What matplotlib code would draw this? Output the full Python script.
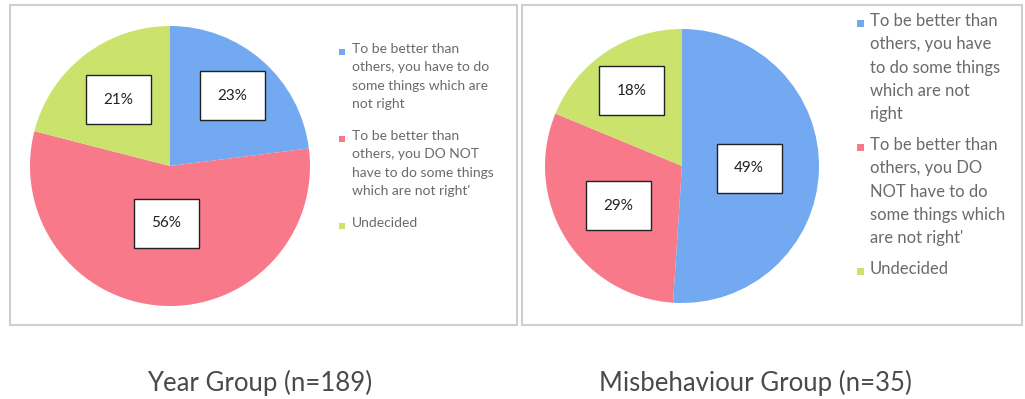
import matplotlib.pyplot as plt
from matplotlib.patches import Rectangle
import numpy as np

# data
year_values = [23, 56, 21]
misb_values = [49, 29, 18]
colors = ["#72a9f1", "#f8798a", "#cbe26c"]
year_legend = [
    "To be better than\nothers, you have to do\nsome things which are\nnot right",
    "To be better than\nothers, you DO NOT\nhave to do some things\nwhich are not right'",
    "Undecided",
]
misb_legend = [
    "To be better than\nothers, you have\nto do some things\nwhich are not\nright",
    "To be better than\nothers, you DO\nNOT have to do\nsome things which\nare not right'",
    "Undecided",
]
captions = ["Year Group (n=189)", "Misbehaviour Group (n=35)"]

W, H = 1025, 399
plt.rcParams["font.family"] = ["Lato", "DejaVu Sans"]
fig = plt.figure(figsize=(W / 100, H / 100), dpi=100)


def px(x, y):
    return x / W, 1 - y / H


def draw_panel(x0, x1, cx, cy, r, values, dists, legend, leg_x, leg_top, line_h,
               leg_fs, lsp, gap, msize, caption, cap_x):
    # frame
    fx, fy = px(x0, 325)
    fig.add_artist(Rectangle((fx, fy), (x1 - x0) / W, 320 / H, transform=fig.transFigure,
                             fill=False, edgecolor="#cfcfcf", lw=1.5))
    # pie axes
    ax = fig.add_axes([(cx - r) / W, 1 - (cy + r) / H, 2 * r / W, 2 * r / H])
    wedges, _ = ax.pie(values, colors=colors, startangle=90, counterclock=False,
                       wedgeprops=dict(linewidth=0))
    ax.set_xlim(-1, 1)
    ax.set_ylim(-1, 1)
    for w, v, d in zip(wedges, values, dists):
        ang = np.deg2rad((w.theta1 + w.theta2) / 2)
        ax.text(d * np.cos(ang), d * np.sin(ang), f"{v}%", ha="center", va="center",
                fontsize=11, color="#222222",
                bbox=dict(boxstyle="square,pad=1.15", fc="white", ec="#222222", lw=1))
    # legend
    top = leg_top
    for lab, c in zip(legend, colors):
        n = lab.count("\n") + 1
        tx, ty = px(leg_x, top)
        fig.text(tx, ty, lab, ha="left", va="top", fontsize=leg_fs, color="#6a6a6a",
                 linespacing=lsp)
        mx, my = px(leg_x - 10, top + line_h / 2 - 1)
        fig.add_artist(Rectangle((mx - msize / 2 / W, my - msize / 2 / H), msize / W, msize / H,
                                 transform=fig.transFigure, color=c, lw=0))
        top += n * line_h + gap
    cx_, cy_ = px(cap_x, 383)
    fig.text(cx_, cy_, caption, ha="center", va="center", fontsize=18.5, color="#4a4a4a")


draw_panel(10, 517, 170, 166, 140, year_values, [0.67, 0.41, 0.60], year_legend,
           352, 43, 19, 10, 1.63, 11, 6, captions[0], 260)
draw_panel(522, 1022, 682, 166, 137, misb_values, [0.49, 0.55, 0.66], misb_legend,
           870, 13, 22.5, 12, 1.56, 11.5, 7, captions[1], 755)

fig.savefig("out.png", dpi=100)
